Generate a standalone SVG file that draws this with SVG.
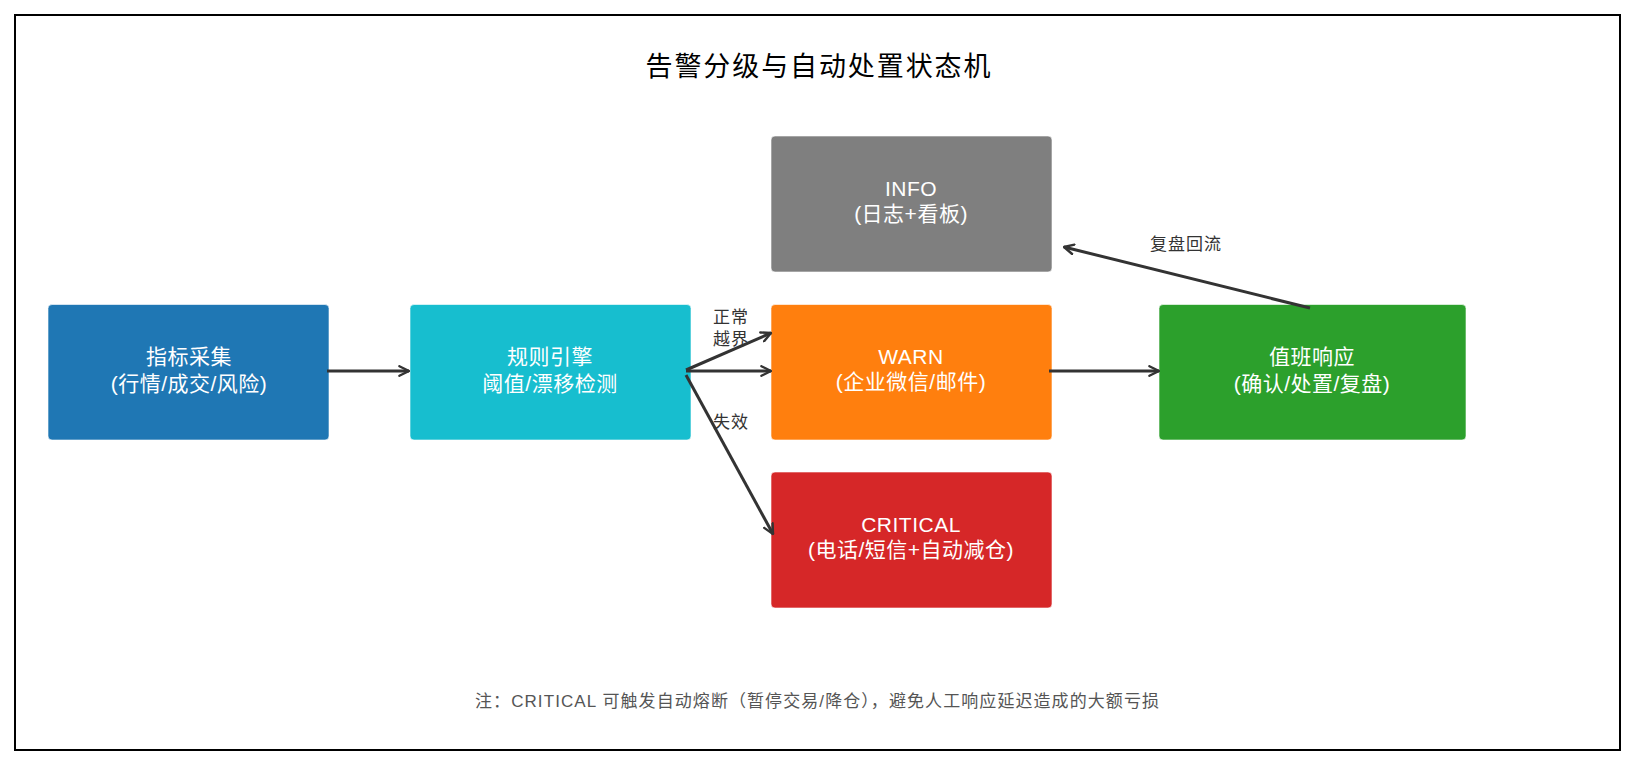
<svg xmlns="http://www.w3.org/2000/svg" width="1635" height="765" viewBox="0 0 1635 765">
<style>
text{font-family:"Liberation Sans","Noto Sans CJK SC",sans-serif;}
.title{font-size:27px;fill:#000;text-anchor:middle;}
.nt{font-size:21px;fill:#fff;text-anchor:middle;letter-spacing:0.5px;}
.lbl{font-size:17px;fill:#333;text-anchor:middle;letter-spacing:1px;}
.note{font-size:17px;fill:#555;text-anchor:middle;}
.node{stroke:#ffffff;stroke-opacity:0.6;stroke-width:1;}
.edge{stroke:#333;stroke-width:3;fill:none;marker-end:url(#arr);}
</style>
<defs>
<marker id="arr" viewBox="0 0 10 10" refX="9" refY="5" markerWidth="4" markerHeight="4" orient="auto" markerUnits="strokeWidth">
<path d="M1,1 L9,5 L1,9" fill="none" stroke="#333" stroke-width="2" stroke-linecap="round" stroke-linejoin="round"/>
</marker>
</defs>
<rect x="0" y="0" width="1635" height="765" fill="#fff"/>
<rect x="15" y="15" width="1605" height="735" fill="none" stroke="#000" stroke-width="2"/>
<text class="title" x="818" y="76" textLength="345" lengthAdjust="spacing">告警分级与自动处置状态机</text>

<g id="collect">
<rect class="node" x="48" y="304.5" width="281" height="135.5" rx="4" fill="#1f77b4"/>
<text class="nt" x="189" y="364">指标采集</text>
<text class="nt" x="189" y="391">(行情/成交/风险)</text>
</g>
<g id="rules">
<rect class="node" x="410" y="304.5" width="281" height="135.5" rx="4" fill="#17becf"/>
<text class="nt" x="550" y="364">规则引擎</text>
<text class="nt" x="550" y="391">阈值/漂移检测</text>
</g>
<g id="info">
<rect class="node" x="771" y="136" width="281" height="136" rx="4" fill="#7f7f7f"/>
<text class="nt" x="911" y="196">INFO</text>
<text class="nt" x="911" y="221">(日志+看板)</text>
</g>
<g id="warn">
<rect class="node" x="771" y="304.5" width="281" height="135.5" rx="4" fill="#ff7f0e"/>
<text class="nt" x="911" y="364">WARN</text>
<text class="nt" x="911" y="389">(企业微信/邮件)</text>
</g>
<g id="critical">
<rect class="node" x="771" y="472" width="281" height="136" rx="4" fill="#d62728"/>
<text class="nt" x="911" y="532">CRITICAL</text>
<text class="nt" x="911" y="557">(电话/短信+自动减仓)</text>
</g>
<g id="oncall">
<rect class="node" x="1159" y="304.5" width="307" height="135.5" rx="4" fill="#2ca02c"/>
<text class="nt" x="1312" y="364">值班响应</text>
<text class="nt" x="1312" y="391">(确认/处置/复盘)</text>
</g>

<g id="connectors">
<line class="edge" x1="327" y1="371" x2="409" y2="371"/>
<line class="edge" x1="686" y1="370" x2="771" y2="333"/>
<line class="edge" x1="686" y1="371" x2="771" y2="371"/>
<line class="edge" x1="686" y1="375" x2="773" y2="534"/>
<line class="edge" x1="1049" y1="371" x2="1159" y2="371"/>
<line class="edge" x1="1310" y1="308" x2="1064" y2="247"/>
<text class="lbl" x="731" y="323">正常</text>
<text class="lbl" x="731" y="345">越界</text>
<text class="lbl" x="731" y="428">失效</text>
<text class="lbl" x="1186" y="250">复盘回流</text>
</g>

<text class="note" x="817" y="707" textLength="684" lengthAdjust="spacing">注：CRITICAL 可触发自动熔断（暂停交易/降仓），避免人工响应延迟造成的大额亏损</text>
</svg>
